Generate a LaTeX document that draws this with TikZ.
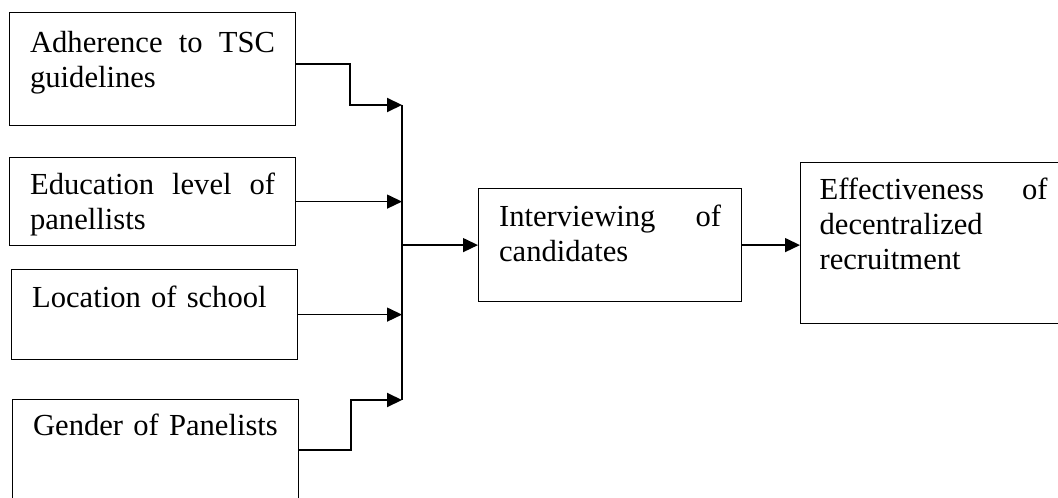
\documentclass[tikz,border=0pt]{standalone}
\usepackage{fontspec}
\setmainfont{Liberation Serif}
\usetikzlibrary{arrows.meta}

\begin{document}
\begin{tikzpicture}[
  x=0.5pt, y=-0.5pt,
  factor/.style={draw, line width=0.6pt, anchor=north west, align=left,
                 text width=122.5pt, inner xsep=10.25pt, inner ysep=0pt,
                 font=\fontsize{15.3}{17.5}\selectfont},
  arrow/.style={-{Triangle[length=7.5pt,width=7pt]}, line width=0.7pt},
  elbow/.style={arrow, line width=1pt}
]
  \useasboundingbox (0,0) rectangle (1058,497);
  \clip (0,0) rectangle (1058,497);

  \node[factor, text height=20pt, text depth=36.5pt] (tsc) at (9,12)
    {Adherence\hfill to\hfill TSC\\guidelines};
  \node[factor, text height=18.5pt, text depth=25.5pt] (edu) at (9,157)
    {Education\hfill level\hfill of\\panellists};
  \node[factor, text height=19pt, text depth=26pt] (loc) at (11,269)
    {Location of school};
  \node[factor, text height=18pt, text depth=32pt] (gen) at (12,399)
    {Gender of Panelists};
  \node[factor, text width=111pt, text height=19pt, text depth=37.5pt] (int) at (478,188)
    {Interviewing\hfill of\\candidates};
  \node[factor, text width=114pt, inner xsep=9.5pt, text height=18.5pt, text depth=62pt] (eff) at (800,162)
    {Effectiveness\hfill of\\decentralized\\recruitment};

  \coordinate (bartop) at (402,105);
  \coordinate (barbot) at (402,400);

  \draw[elbow] ([yshift=2.75pt]tsc.east) -- ++(54,0) |- (bartop);
  \draw[arrow] (edu.east) -- (edu.east -| bartop);
  \draw[arrow] (loc.east) -- (loc.east -| bartop);
  \draw[elbow] (gen.east) -- ++(52,0) |- (barbot);
  \draw[line width=1pt] (bartop) -- (barbot);
  \draw[arrow] (int.west -| bartop) -- (int.west);
  \draw[arrow] (int.east) -- (int.east -| eff.west);
\end{tikzpicture}
\end{document}
